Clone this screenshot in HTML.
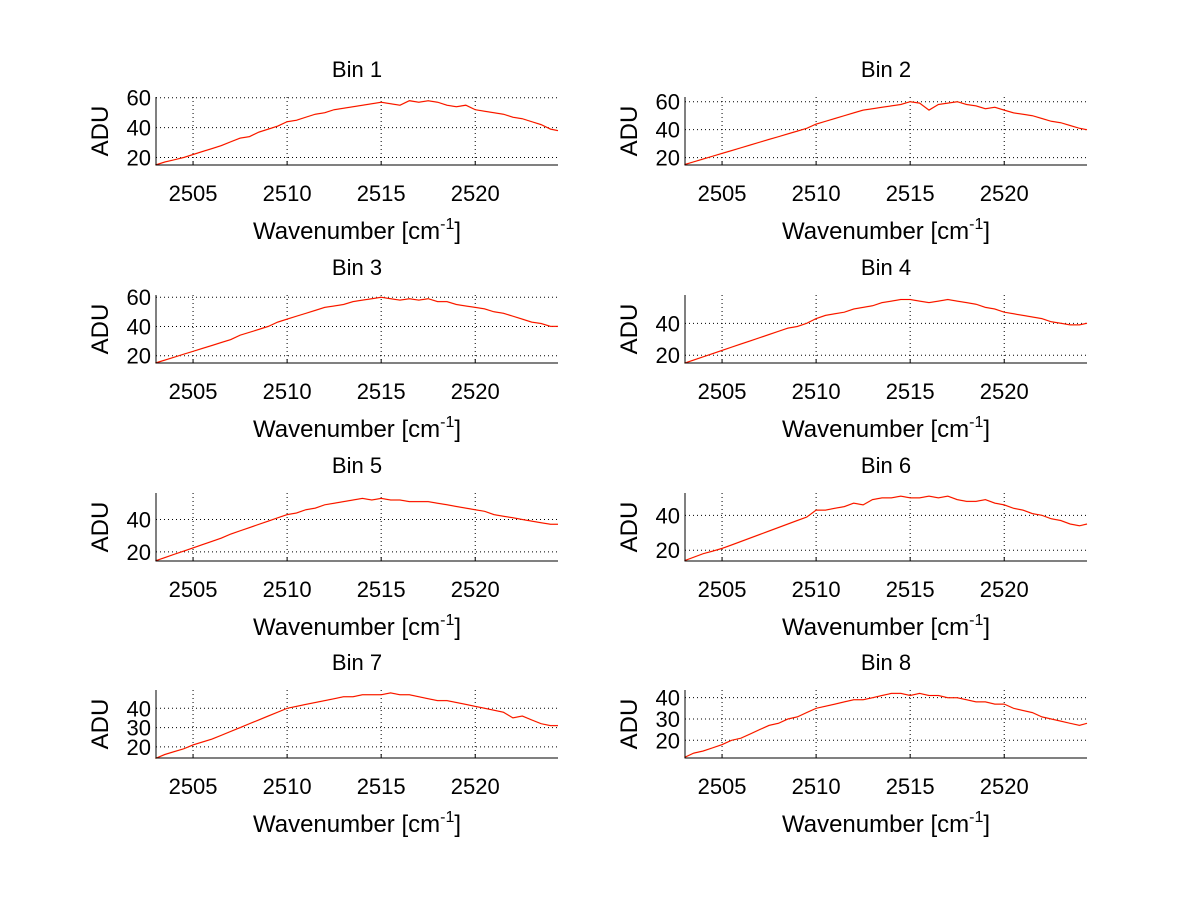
<!DOCTYPE html>
<html><head><meta charset="utf-8"><style>
html,body{margin:0;padding:0;background:#fff;}
svg{display:block;font-family:"Liberation Sans",sans-serif;}
</style></head><body>
<svg id="fig" width="1200" height="901" viewBox="0 0 1200 901"></svg>
<script>
const wavenumbers=[2503,2503.5,2504,2504.5,2505,2505.5,2506,2506.5,2507,2507.5,2508,2508.5,2509,2509.5,2510,2510.5,2511,2511.5,2512,2512.5,2513,2513.5,2514,2514.5,2515,2515.5,2516,2516.5,2517,2517.5,2518,2518.5,2519,2519.5,2520,2520.5,2521,2521.5,2522,2522.5,2523,2523.5,2524,2524.4];
const xTicks=[2505,2510,2515,2520];
const binTitles=["Bin 1","Bin 2","Bin 3","Bin 4","Bin 5","Bin 6","Bin 7","Bin 8"];
const bin1=[15,17,18.5,20,22,24,26,28,30.5,33,34,37,39,41,44,45,47,49,50,52,53,54,55,56,57,56,55,58,57,58,57,55,54,55,52,51,50,49,47,46,44,42,39,38];
const bin2=[15,17,19,21,23,25,27,29,31,33,35,37,39,41,44,46,48,50,52,54,55,56,57,58,60,59,54,58,59,60,58,57,55,56,54,52,51,50,48,46,45,43,41,40];
const bin3=[15,17,19,21,23,25,27,29,31,34,36,38,40,43,45,47,49,51,53,54,55,57,58,59,60,59,58,59,58,59,57,57,55,54,53,52,50,49,47,45,43,42,40,40];
const bin4=[15,17,19,21,23,25,27,29,31,33,35,37,38,40,43,45,46,47,49,50,51,53,54,55,55,54,53,54,55,54,53,52,50,49,47,46,45,44,43,41,40,39,39,40];
const bin5=[14.5,16.5,18.5,20.5,22.5,24.5,26.5,28.5,31,33,35,37,39,41,43,44,46,47,49,50,51,52,53,52,53,52,52,51,51,51,50,49,48,47,46,45,43,42,41,40,39,38,37,37];
const bin6=[14,16,18,19.5,21,23,25,27,29,31,33,35,37,39,43,43,44,45,47,46,49,50,50,51,50,50,51,50,51,49,48,48,49,47,46,44,43,41,40,38,37,35,34,35];
const bin7=[14,16,17.5,19,21,22.5,24,26,28,30,32,34,36,38,40,41,42,43,44,45,46,46,47,47,47,48,47,47,46,45,44,44,43,42,41,40,39,38,35,36,34,32,31,31];
const bin8=[12,14,15,16.5,18,20,21,23,25,27,28,30,31,33,35,36,37,38,39,39,40,41,42,42,41,42,41,41,40,40,39,38,38,37,37,35,34,33,31,30,29,28,27,28];
const yLims=[[15,60.5],[14.7,63.4],[15,61.5],[15.1,57.8],[14.4,56.3],[13.8,52.8],[14.2,49.5],[11.7,43.6]];
const yTicks=[[20,40,60],[20,40,60],[20,40,60],[20,40],[20,40],[20,40],[20,30,40],[20,30,40]];
const series=[bin1,bin2,bin3,bin4,bin5,bin6,bin7,bin8];

const NS="http://www.w3.org/2000/svg";
const svg=document.getElementById('fig');
function mk(tag,attrs,parent){const e=document.createElementNS(NS,tag);for(const k in attrs)e.setAttribute(k,attrs[k]);(parent||svg).appendChild(e);return e;}
const xMin=2503.03,xMax=2524.4;
const colLeft=[156,685],axW=402;
const rowTop=[97,295,493,690],axH=68;
for(let b=0;b<8;b++){
  const L=colLeft[b%2],T=rowTop[Math.floor(b/2)],B=T+axH,R=L+axW;
  const g=mk('g',{});
  
  
  const [y0,y1]=yLims[b];
  const sx=v=>L+(v-xMin)/(xMax-xMin)*axW;
  const sy=v=>B-(v-y0)/(y1-y0)*axH;
  xTicks.forEach(t=>{const ln=mk('line',{x1:sx(t),x2:sx(t),y1:T,y2:B,stroke:'#000','stroke-width':1,'stroke-dasharray':'1,3'},g);
    
    
    mk('line',{x1:sx(t),x2:sx(t),y1:B,y2:B-4,stroke:'#000'},g);
    const tx=mk('text',{x:sx(t),y:B+36,'font-size':22,'text-anchor':'middle'},g);tx.textContent=t;
    
    });
  yTicks[b].forEach(t=>{const ln=mk('line',{x1:L,x2:R,y1:sy(t),y2:sy(t),stroke:'#000','stroke-width':1,'stroke-dasharray':'1,3'},g);
    
    
    const tx=mk('text',{x:L-5,y:sy(t)+8,'font-size':22,'text-anchor':'end'},g);tx.textContent=t;
    
    });
  const d=series[b].map((v,i)=>(i?'L':'M')+sx(wavenumbers[i]).toFixed(1)+','+sy(v).toFixed(1)).join('');
  const p1=mk('path',{d:d,fill:'none',stroke:'#e0b000','stroke-width':1.5,opacity:0.5},g);
  
  
  const p=mk('path',{d:d,fill:'none',stroke:'#ff0000','stroke-width':1},g);
  
  
  mk('line',{x1:L,x2:L,y1:T,y2:B+0.5,stroke:'#000'},g);
  mk('line',{x1:L,x2:R,y1:B,y2:B,stroke:'#000'},g);
  const ti=mk('text',{x:L+axW/2,y:T-20,'font-size':22,'text-anchor':'middle'},g);ti.textContent=binTitles[b];
  
  
  const xl=mk('text',{x:L+axW/2,y:B+74,'font-size':24,'text-anchor':'middle'},g);
  xl.innerHTML='Wavenumber [cm<tspan dy="-10" font-size="16">-1</tspan><tspan dy="10">]</tspan>';
  
  
  const yl=mk('text',{x:0,y:0,'font-size':24,'text-anchor':'middle',transform:'translate('+(L-48)+','+(T+axH/2)+') rotate(-90)'},g);yl.textContent='ADU';
  
  
}
</script>
</body></html>
